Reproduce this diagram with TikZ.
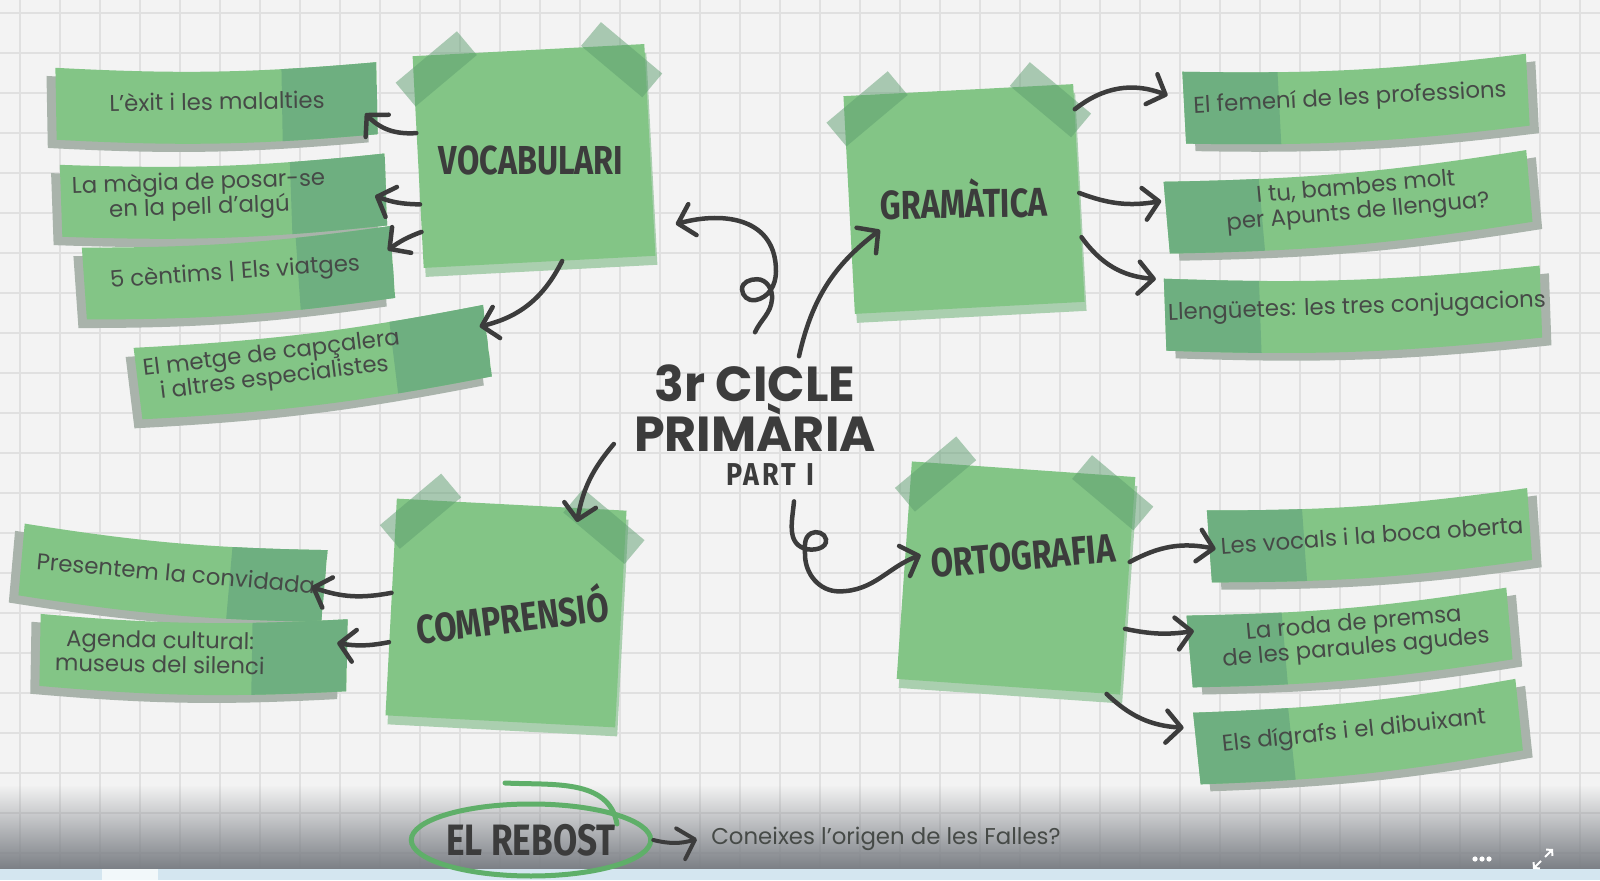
\documentclass[tikz,border=0pt]{standalone}
\usepackage{fontspec}
\setmainfont{Poppins}
\newfontfamily\headfont{Fira Sans}[FakeStretch=0.8]
\newfontfamily\partfont{Fira Sans}[FakeStretch=0.85,LetterSpace=10]
\usetikzlibrary{arrows.meta,calc,positioning,shadows,fadings,shapes.geometric}

\definecolor{paper}{HTML}{F3F3F3}
\definecolor{gridcol}{HTML}{E0E0E0}
\definecolor{notegreen}{HTML}{83C586}
\definecolor{noteshade}{HTML}{AACFAF}
\definecolor{tapegreen}{HTML}{5E9E70}
\definecolor{ribdark}{HTML}{6EAF80}
\definecolor{ribshade}{HTML}{A9B3AB}
\definecolor{ink}{HTML}{3C3C3C}
\definecolor{labelink}{HTML}{464A47}
\definecolor{ringgreen}{HTML}{5FAF69}
\definecolor{barcol}{HTML}{7B7F85}
\definecolor{stripcol}{HTML}{D4E6F0}

\tikzset{
  note/.style={rectangle, fill=notegreen, inner sep=0pt,
    drop shadow={shadow xshift=0.4mm, shadow yshift=-1.8mm, fill=noteshade, opacity=1}},
  tape/.style={rectangle, fill=tapegreen, opacity=0.5, minimum width=16mm, minimum height=6.2mm, inner sep=0pt},
  heading/.style={font=\headfont\bfseries\fontsize{23}{23}\selectfont, text=ink, inner sep=0pt},
  ribtext/.style={font=\fontsize{13}{14}\selectfont, text=labelink, align=center, inner sep=0pt},
  titletxt/.style={font=\bfseries\fontsize{28}{26}\selectfont, text=ink, align=center, inner sep=0pt},
  parttxt/.style={font=\partfont\bfseries\fontsize{18}{18}\selectfont, text=ink, inner sep=0pt},
  arr/.style={->, draw=ink, line width=0.9mm, line cap=round},
  gridline/.style={draw=gridcol, line width=0.3mm},
  ringline/.style={draw=ringgreen, line width=1mm, line cap=round},
}

% wavy band of a label
\newcommand\ribband[2]{(#1,-36) -- (#1,36) to[bend right=4] (#2,36) -- (#2,-36) to[bend left=4] (#1,-36) -- cycle}
% name, centre, angle, left, right, dark end (1 right, -1 left), arrow end, text
\newcommand\ribbon[8]{%
  \pgfmathsetmacro\ribIn{#6>0 ? #5 : #4}%
  \pgfmathsetmacro\ribDark{\ribIn-95*(#6)}%
  \pgfmathsetmacro\ribSh{-9*(#6)}%
  \begin{scope}[shift={#2},rotate=#3]
    \fill[ribshade,shift={(\ribSh,-8)}] \ribband{#4}{#5};
    \fill[notegreen] \ribband{#4}{#5};
    \begin{scope}
      \clip \ribband{#4}{#5};
      \fill[ribdark] (\ribIn,-50) rectangle (\ribDark,50);
    \end{scope}
    \coordinate (#1-in) at (#7);
  \end{scope}
  \node[ribtext,rotate=#3] (#1) at #2 {#8};
}

\begin{document}
\begin{tikzpicture}[x=0.2mm,y=0.2mm,>={Straight Barb[length=3mm,width=6.4mm,round]}]
  \useasboundingbox (0,0) rectangle (1600,880);
  \fill[paper] (0,0) rectangle (1600,880);
  \foreach \x in {20,60,...,1580}
    \draw[gridline] (\x,0) -- (\x,880);
  \foreach \y in {27,67,...,867}
    \draw[gridline] (0,\y) -- (1600,\y);

  % bottom bar
  \fill[barcol, path fading=north] (0,11) rectangle (1600,95);
  \fill[stripcol] (0,0) rectangle (1600,11);
  \fill[white!70!stripcol] (102,0) rectangle (158,11);

  % sticky notes
  \node[note, minimum width=46.4mm, minimum height=42.4mm, rotate=3] (voc) at (534,724) {};
  \node[note, minimum width=46mm, minimum height=43.6mm, rotate=3] (gra) at (964,681) {};
  \node[note, minimum width=46mm, minimum height=43.4mm, rotate=-3] (comp) at (506,267) {};
  \node[note, minimum width=44.8mm, minimum height=43.6mm, rotate=-4] (ort) at (1016,302) {};
  \foreach \n in {voc,gra,comp,ort}{
    \node[tape, rotate=40] (\n-tl) at ($(\n.north west)+(24,-13)$) {};
    \node[tape, rotate=-40] (\n-tr) at ($(\n.north east)+(-23,-16)$) {};
  }
  \node[heading] (vocT) at ($(voc)+(-3,-5)$) {VOCABULARI};
  \node[heading, rotate=1] (graT) at (gra) {GRAMÀTICA};
  \node[heading, rotate=7] (compT) at ($(comp)+(6,-1)$) {COMPRENSIÓ};
  \node[heading, rotate=5] (ortT) at ($(ort)+(7,22)$) {ORTOGRAFIA};

  % labels
  \ribbon{r1}{(217,779)}{1}{-161}{160}{1}{148,-15}{L’èxit i les malalties}
  \ribbon{r2}{(199,684)}{2}{-138}{187}{1}{176,-6}{La màgia de posar-se\\en la pell d'algú}
  \ribbon{r3}{(235,607)}{4}{-151}{158}{1}{154,12}{5 cèntims | Els viatges}
  \ribbon{r4}{(273,513)}{7}{-136}{216}{1}{210,15}{El metge de capçalera\\i altres especialistes}
  \ribbon{g1}{(1350,781)}{3}{-166}{178}{-1}{-182,13}{El femení de les professions}
  \ribbon{g2}{(1357,679)}{5}{-191}{173}{-1}{-195,17}{I tu, bambes molt\\per Apunts de llengua?}
  \ribbon{g3}{(1357,572)}{2}{-192}{184}{-1}{-200,36}{Llengüetes: les tres conjugacions}
  \ribbon{c1}{(176,307)}{-5}{-155}{149}{1}{136,-2}{Presentem la convidada}
  \ribbon{c2}{(160,228)}{-1}{-120}{187}{1}{177,12}{Agenda cultural:\\museus del silenci}
  \ribbon{o1}{(1372,345)}{4}{-163}{158}{-1}{-157,-3}{Les vocals i la boca oberta}
  \ribbon{o2}{(1355,243)}{5}{-166}{155}{-1}{-160,20}{La roda de premsa\\de les paraules agudes}
  \ribbon{o3}{(1354,148)}{6}{-158}{166}{-1}{-169,22}{Els dígrafs i el dibuixant}

  % title
  \node[titletxt] (title) at (755,472) {3r CICLE\\PRIMÀRIA};
  \node[parttxt, below=2.2mm of title, xshift=3mm] (part) {PART I};

  % arrows to the labels
  \draw[arr] (voc.166) to[bend left=25] (r1-in);
  \draw[arr] (voc.200) to[bend left=10] (r2-in);
  \draw[arr] (voc.211) to[bend right=8] (r3-in);
  \draw[arr] (voc.282) to[bend left=25] (r4-in);
  \draw[arr] (gra.36) to[bend left=30] (g1-in);
  \draw[arr] (gra.0) to[bend right=15] (g2-in);
  \draw[arr] (gra.339) to[bend right=25] (g3-in);
  \draw[arr] (comp.173) to[bend left=15] (c1-in);
  \draw[arr] (comp.197) to[bend left=10] (c2-in);
  \draw[arr] (ort.12) to[bend left=20] (o1-in);
  \draw[arr] (ort.339) to[bend right=10] (o2-in);
  \draw[arr] (ort.312) to[bend right=20] (o3-in);

  % arrows from the title
  \draw[arr] ($(title.north)+(0,32)$) to[out=65,in=-95] ++(17,33) to[out=85,in=0] ++(-15,20)
    to[out=180,in=90] ++(-15,-10) to[out=-90,in=190] ++(13,-11) to[out=10,in=-90] ++(21,29)
    to[out=90,in=15,looseness=1.2] ($(voc.south east)+(20,32)$);
  \draw[arr] ($(title.north)+(44,8)$) to[bend left=20] ($(gra)+(-84,-31)$);
  \draw[arr] ($(title.west)+(-20,-36)$) to[bend right=15] ($(comp)+(71,91)$);
  \draw[arr] ($(part.south)+(24,-16)$) to[out=-95,in=160] ++(10,-47) to[out=-20,in=-80] ++(22,9)
    to[out=100,in=30] ++(-15,6) to[out=210,in=90] ++(-6,-21) to[out=-90,in=180] ++(34,-37)
    to[out=0,in=200] ($(ortT.west)+(-10,9)$);

  % el rebost
  \node[heading, font=\headfont\bfseries\fontsize{25}{25}\selectfont, ellipse, draw=ringgreen,
    line width=1mm, minimum width=38mm, minimum height=14.4mm, inner sep=0pt] (reb) at (531,40) {EL REBOST};
  \draw[ringline] ($(reb.center)+(-26,57)$) to[out=-3,in=100] ($(reb.center)+(86,16)$);
  \node[ribtext, anchor=west] (q) at (711,41) {Coneixes l’origen de les Falles?};
  \draw[arr, line width=0.8mm] (reb.east) to[bend right=15] ($(q.west)+(-14,0)$);

  % player icons
  \foreach \x in {1475,1482,1489}
    \fill[white] (\x,21) circle (2.6);
  \draw[white, line width=0.4mm, -{Straight Barb[length=0.8mm,width=1.8mm]}] (1541,19) -- (1533,11);
  \draw[white, line width=0.4mm, -{Straight Barb[length=0.8mm,width=1.8mm]}] (1545,23) -- (1553,31);
\end{tikzpicture}
\end{document}
